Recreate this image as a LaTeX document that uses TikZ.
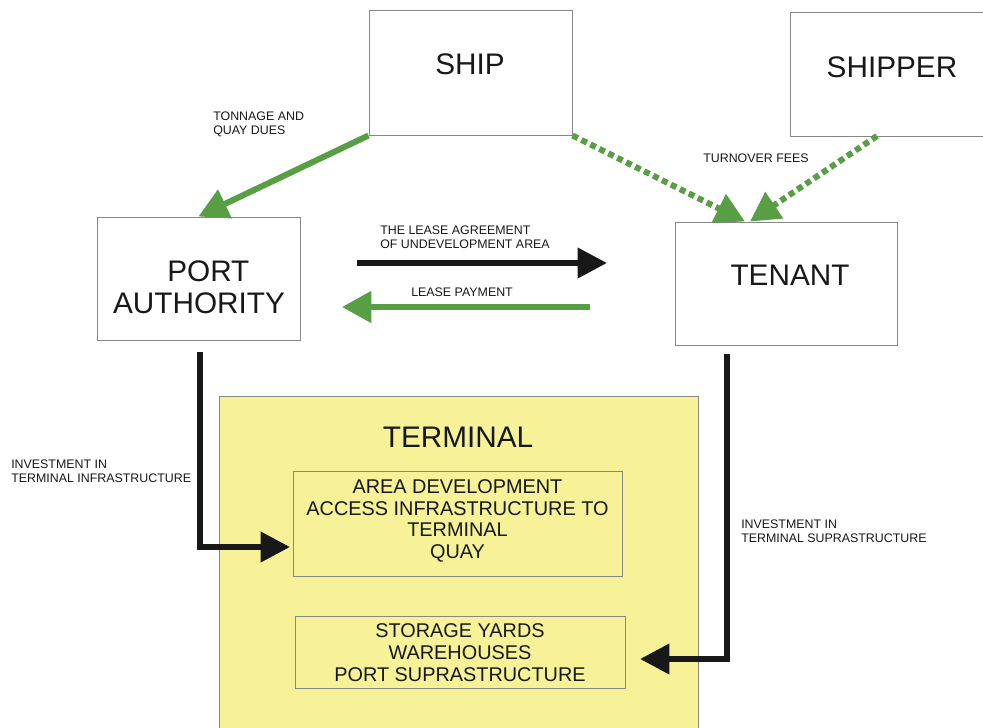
\documentclass[tikz,border=0pt]{standalone}
\usepackage{fontspec}
\setmainfont{Liberation Sans}
\usetikzlibrary{arrows.meta,calc}
\definecolor{flowgreen}{RGB}{88,158,68}
\definecolor{flowblack}{RGB}{24,24,24}
\definecolor{termyellow}{RGB}{247,242,152}
\definecolor{boxgray}{RGB}{135,135,135}
\begin{document}
\begin{tikzpicture}[x=0.75pt,y=-0.75pt,
  party/.style={draw=boxgray,line width=0.75pt,fill=white,inner sep=0pt},
  item/.style={draw=boxgray,line width=0.75pt,inner sep=0pt},
  bigtext/.style={font=\fontsize{22.3}{24}\selectfont,align=center,inner sep=0pt,text=flowblack},
  midtext/.style={font=\fontsize{14.9}{16.3}\selectfont,align=center,inner sep=0pt,text=flowblack},
  smalltext/.style={font=\fontsize{9.3}{10.5}\selectfont,align=left,inner sep=0pt,anchor=north west,text=flowblack},
  greenflow/.style={draw=flowgreen,line width=4.5pt,-{Triangle[length=22pt,width=23pt]},flowgreen},
  greendots/.style={greenflow,dash pattern=on 4.5pt off 3pt},
  blackflow/.style={draw=flowblack,line width=4.5pt,-{Triangle[length=22pt,width=22pt]},flowblack},
]
\useasboundingbox (0,0) rectangle (983,728);
\fill[white] (0,0) rectangle (983,728);

% parties
\node[party,minimum width=152.25pt,minimum height=93.75pt] (ship) at (470.5,72.5) {};
\node[bigtext] (shiplbl) at (470,64) {SHIP};
\node[party,minimum width=150pt,minimum height=93pt] (shipper) at (890,74.5) {};
\node[bigtext] (shipperlbl) at (892,67) {SHIPPER};
\node[party,minimum width=152.25pt,minimum height=92.25pt] (pa) at (198.5,278.5) {};
\node[bigtext] (palbl) at (199,287) {\hspace*{14pt}PORT\\AUTHORITY};
\node[party,minimum width=166.5pt,minimum height=92.25pt] (tenant) at (786,283.5) {};
\node[bigtext] (tenantlbl) at (790,275) {TENANT};

% terminal area
\node[draw=boxgray,line width=0.75pt,fill=termyellow,inner sep=0pt,
      minimum width=359.25pt,minimum height=252pt] (terminal) at (458.5,564) {};
\node[bigtext] (terminallbl) at (458,437) {TERMINAL};
\node[item,minimum width=246.75pt,minimum height=78.75pt] (area) at (457.5,523.5) {};
\node[midtext] (arealbl) at (457.5,521) {AREA DEVELOPMENT\\ACCESS INFRASTRUCTURE TO\\TERMINAL\\QUAY};
\node[item,minimum width=247.5pt,minimum height=54pt] (storage) at (460,652) {};
\node[midtext] (storagelbl) at (460,652.5) {STORAGE YARDS\\WAREHOUSES\\PORT SUPRASTRUCTURE};

% flow labels
\node[smalltext] (tonnage) at (213,112) {TONNAGE AND\\QUAY DUES};
\node[smalltext] (turnover) at (703,154) {TURNOVER FEES};
\node[smalltext] (lease) at (380,226) {THE LEASE AGREEMENT\\OF UNDEVELOPMENT AREA};
\node[smalltext] (payment) at (411,288) {LEASE PAYMENT};
\node[smalltext] (infra) at (11,460) {INVESTMENT IN\\TERMINAL INFRASTRUCTURE};
\node[smalltext] (supra) at (741,520) {INVESTMENT IN\\TERMINAL SUPRASTRUCTURE};

% free ends of the flows
\coordinate (tenantin1) at ($(tenant.north)+(-41,0)$);
\coordinate (tenantin2) at ($(tenant.north)+(-36,0)$);
\coordinate (shipperout) at (877,136);
\coordinate (leasefrom) at (357,263);
\coordinate (leaseto) at (607,263);
\coordinate (payfrom) at (590,307);
\coordinate (payto) at (342,307);
\coordinate (pafoot) at (200,352);
\coordinate (areain) at (290,547);
\coordinate (tenantfoot) at (727,354);
\coordinate (storagein) at (640,659);

% money and service flows
\draw[greenflow] (ship.south west) -- (pa.north);
\draw[greendots] (ship.south east) -- (tenantin1);
\draw[greendots] (shipperout) -- (tenantin2);
\draw[blackflow] (leasefrom) -- (leaseto);
\draw[greenflow] (payfrom) -- (payto);
\draw[blackflow] (pafoot) |- (areain);
\draw[blackflow] (tenantfoot) |- (storagein);
\end{tikzpicture}
\end{document}
